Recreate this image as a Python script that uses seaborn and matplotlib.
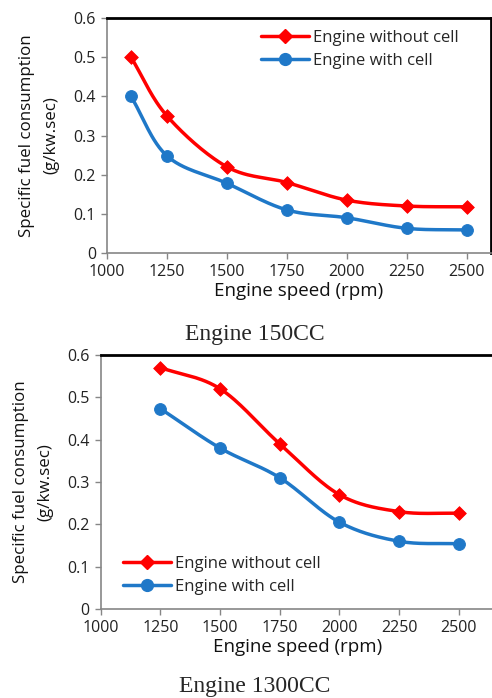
import numpy as np
import pandas as pd
import matplotlib
matplotlib.use("Agg")
import matplotlib.pyplot as plt
from matplotlib.lines import Line2D
import seaborn as sns

# data
speed_150 = [1100, 1250, 1500, 1750, 2000, 2250, 2500]
without_150 = [0.50, 0.35, 0.22, 0.18, 0.135, 0.12, 0.118]
with_150 = [0.40, 0.248, 0.178, 0.11, 0.09, 0.063, 0.059]

speed_1300 = [1250, 1500, 1750, 2000, 2250, 2500]
without_1300 = [0.57, 0.52, 0.39, 0.27, 0.23, 0.226]
with_1300 = [0.473, 0.38, 0.31, 0.205, 0.16, 0.154]

x_ticks = [1000, 1250, 1500, 1750, 2000, 2250, 2500]
y_ticks = [0, 0.1, 0.2, 0.3, 0.4, 0.5, 0.6]
y_ticklabels = ["0", "0.1", "0.2", "0.3", "0.4", "0.5", "0.6"]

RED = "#FF0000"
BLUE = "#1F78C8"
GREY = "#868686"

sns.set_theme(style="white")
plt.rcParams["font.family"] = ["Open Sans", "DejaVu Sans"]


def smooth(x, y, n=30):
    # Catmull-Rom style smoothing like Excel's "smoothed line"
    x = np.asarray(x, float)
    y = np.asarray(y, float)
    px = np.concatenate([[2 * x[0] - x[1]], x, [2 * x[-1] - x[-2]]])
    py = np.concatenate([[2 * y[0] - y[1]], y, [2 * y[-1] - y[-2]]])
    xs, ys = [], []
    t = np.linspace(0, 1, n)
    for i in range(1, len(px) - 2):
        for arr, out in ((px, xs), (py, ys)):
            p0, p1, p2, p3 = arr[i - 1], arr[i], arr[i + 1], arr[i + 2]
            c1 = p1 + (p2 - p0) / 6
            c2 = p2 - (p3 - p1) / 6
            out.extend((1 - t) ** 3 * p1 + 3 * (1 - t) ** 2 * t * c1
                       + 3 * (1 - t) * t ** 2 * c2 + t ** 3 * p2)
    return np.array(xs), np.array(ys)


def draw(ax, speed, without, withc, xmax, legend_loc, legend_anchor):
    df = pd.DataFrame({"speed": speed * 2,
                       "sfc": without + withc,
                       "series": ["Engine without cell"] * len(speed)
                                 + ["Engine with cell"] * len(speed)})
    for name, color, marker, ms in (("Engine without cell", RED, "D", 7),
                                    ("Engine with cell", BLUE, "o", 8.5)):
        d = df[df["series"] == name]
        sx, sy = smooth(d["speed"], d["sfc"])
        sns.lineplot(x=sx, y=sy, ax=ax, color=color, lw=2.5, sort=False,
                     estimator=None)
        sns.scatterplot(x=d["speed"], y=d["sfc"], ax=ax, color=color,
                        marker=marker, s=ms ** 2, edgecolor=color, zorder=3)
    handles = [Line2D([], [], color=RED, lw=2.5, marker="D", ms=7),
               Line2D([], [], color=BLUE, lw=2.5, marker="o", ms=8.5)]
    ax.legend(handles, ["Engine without cell", "Engine with cell"],
              loc=legend_loc, bbox_to_anchor=legend_anchor, frameon=False,
              fontsize=12, handlelength=2.9, handletextpad=0.25,
              labelspacing=0.42, borderaxespad=0, borderpad=0)
    ax.set_xlim(1000, xmax)
    ax.set_ylim(0, 0.6)
    ax.set_xticks(x_ticks)
    ax.set_yticks(y_ticks)
    ax.set_yticklabels(y_ticklabels)
    ax.tick_params(axis="both", labelsize=11.5, colors="#222222",
                   length=4, width=1, direction="out", color=GREY,
                   bottom=True, left=True, pad=4)
    for s in ("left", "bottom"):
        ax.spines[s].set_color(GREY)
        ax.spines[s].set_linewidth(1.2)
    for s in ("top", "right"):
        ax.spines[s].set_color("black")
        ax.spines[s].set_linewidth(2)
    ax.set_xlabel("Engine speed (rpm)", fontsize=13.5, color="#111111",
                  labelpad=1)
    ax.set_ylabel("Specific fuel consumption\n(g/kw.sec)", fontsize=12.2,
                  color="#111111", labelpad=10, linespacing=1.7)


fig = plt.figure(figsize=(4.92, 6.98), dpi=100)
ax1 = fig.add_axes([0.2175, 0.6375, 0.780, 0.3367])
draw(ax1, speed_150, without_150, with_150, 2600, "upper left", (0.40, 0.95))

ax2 = fig.add_axes([0.205, 0.1275, 0.80, 0.3640])
draw(ax2, speed_1300, without_1300, with_1300, 2650, "lower left", (0.055, 0.055))

fig.text(0.518, 0.521, "Engine 150CC", ha="center", va="center",
         fontsize=17, family="Liberation Serif")
fig.text(0.518, 0.016, "Engine 1300CC", ha="center", va="center",
         fontsize=17, family="Liberation Serif")

fig.savefig("out.png", dpi=100)
